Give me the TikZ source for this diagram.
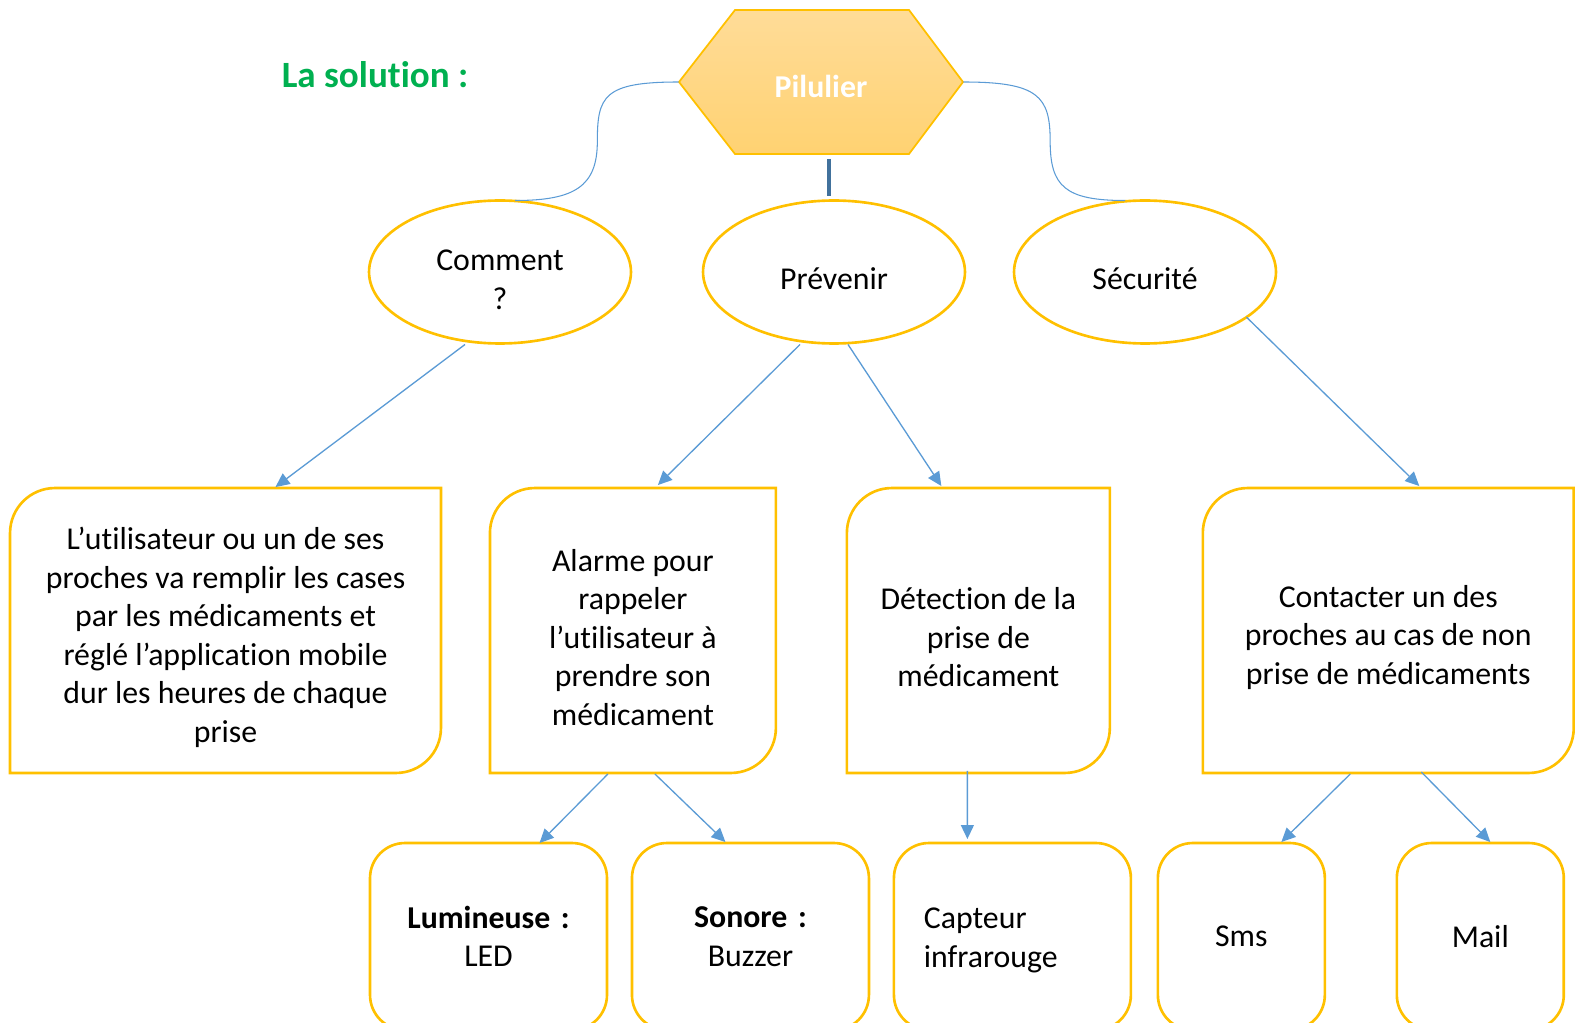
\documentclass[tikz,border=0pt]{standalone}
\usepackage{fontspec}
\setmainfont{Carlito}[Ligatures=NoCommon]
\usepackage{xcolor}
\usepackage{tikz}
\usetikzlibrary{positioning}
\usetikzlibrary{shapes,arrows}
\usetikzlibrary{arrows.meta}
\usetikzlibrary{calc}

\definecolor{orangebord}{HTML}{FFC000}
\definecolor{bleulien}{HTML}{5B9BD5}
\definecolor{bleutige}{HTML}{41719C}
\definecolor{vertitre}{HTML}{00B050}
\definecolor{hexhaut}{HTML}{FFDC98}
\definecolor{hexbas}{HTML}{FFD272}

\newcommand{\txt}{\fontsize{18.1}{21.9}\selectfont}
\newcommand{\hausse}{\rule{0pt}{0.72cm}}
\newcommand{\cadrediag}[1]{%
	\draw [cadre] (#1.north east) -- ([yshift=0.9cm]#1.south east)
		arc [start angle=0, end angle=-90, radius=0.9cm] -- (#1.south west)
		-- ([yshift=-0.9cm]#1.north west)
		arc [start angle=180, end angle=90, radius=0.9cm] -- cycle;}

\begin{document}
\begin{tikzpicture}[x=0.02cm, y=-0.02cm,
		titre/.style={font=\fontsize{21.1}{25}\selectfont\bfseries, text=vertitre},
		bulle/.style={ellipse, draw=orangebord, line width=1.5pt, fill=white, minimum width=5.24cm, minimum height=2.86cm, inner sep=0pt, outer sep=0pt, align=center, font=\txt},
		bloc/.style={rectangle, minimum height=5.7cm, inner sep=0pt, outer sep=0pt, align=center, font=\txt},
		cadre/.style={draw=orangebord, line width=1.5pt},
		petit/.style={rectangle, rounded corners=0.7cm, draw=orangebord, line width=1.5pt, minimum height=3.74cm, inner xsep=0.6cm, outer sep=0pt, text width=3.54cm, align=center, font=\txt},
		fleche/.style={draw=bleulien, line width=0.75pt, -{Triangle[length=0.28cm, width=0.26cm]}},
		crochet/.style={draw=bleulien, line width=0.6pt},
		tige/.style={draw=bleutige, line width=2.8pt}]
		\useasboundingbox (0,0) rectangle (1575,1023);
		
		\node[titre] (t) at (375,75) {La solution :};
		\coordinate (c0) at (821,82);
		\shade[top color=hexhaut, bottom color=hexbas, draw=orangebord, line width=1pt] ($(c0)+(-142,0)$) -- ($(c0)+(-86,-72)$) -- ($(c0)+(88,-72)$) -- ($(c0)+(142,0)$) -- ($(c0)+(88,72)$) -- ($(c0)+(-86,72)$) -- cycle;
		\node[font=\txt\bfseries, text=white, minimum width=5.68cm, minimum height=2.9cm, inner sep=0pt] (s0) at (c0) {\rule{0pt}{0.62cm}Pilulier};
		
		\node[bulle] (s1) at (500,272) {\hausse Comment\\?};
		\node[bulle] (s2) at (834,272) {\hausse Prévenir};
		\node[bulle] (s3) at (1145,272) {\hausse Sécurité};
		
		\draw[crochet] (s0.west) .. controls +(-75,0) and +(0,-45) .. ($(s0.west)!0.5!(s1.north)+(8,0)$) .. controls +(0,45) and +(60,0) .. ($(s1.north)+(15,0)$);
		\draw[crochet] (s0.east) .. controls +(75,0) and +(0,-45) .. ($(s0.east)!0.5!(s3.north)+(-4,0)$) .. controls +(0,45) and +(-60,0) .. ($(s3.north)+(-20,0)$);
		\draw[tige] ($(s0.south)+(8,4)$) -- ($(s2.north)+(-5,-5)$);
		
		\node[bloc, minimum width=8.62cm] (s1a) at (225.5,630.5) {\hausse L’utilisateur ou un de ses\\proches va remplir les cases\\par les médicaments et\\réglé l’application mobile\\dur les heures de chaque\\prise};
		\node[bloc, minimum width=5.72cm, right=0.98cm of s1a] (s2a) {\hausse Alarme pour\\rappeler\\l’utilisateur à\\prendre son\\médicament};
		\node[bloc, minimum width=5.26cm, right=1.42cm of s2a] (s2b) {\hausse Détection de la\\prise de\\médicament};
		\node[bloc, minimum width=7.42cm, right=1.86cm of s2b] (s3a) {\hausse Contacter un des\\proches au cas de non\\prise de médicaments};
		\cadrediag{s1a}
		\cadrediag{s2a}
		\cadrediag{s2b}
		\cadrediag{s3a}
		
		\node[petit] (s2a1) at (488.5,936.5) {\textbf{Lumineuse :}\\LED};
		\node[petit, right=0.5cm of s2a1] (s2a2) {\textbf{Sonore :}\\Buzzer};
		\node[petit, right=0.5cm of s2a2, align=left] (s2b1) {\rule{0pt}{0.57cm}Capteur\\infrarouge};
		\node[petit, text width=2.14cm, right=0.54cm of s2b1] (s3a1) {Sms};
		\node[petit, text width=2.14cm, right=1.44cm of s3a1] (s3a2) {Mail};
		
		\draw[fleche] ($(s1.south)+(-35,1)$) -- ($(s1a.north)+(50,-1)$);
		\draw[fleche] ($(s2.south)+(-34,1)$) -- ($(s2a.north)+(25,-3)$);
		\draw[fleche] ($(s2.south)+(14,1)$) -- ($(s2b.north)+(-37,-2)$);
		\draw[fleche] (s3.-24) -- ($(s3a.north)+(31,-2)$);
		\draw[fleche] ($(s2a.south)+(-25,1)$) -- ($(s2a1.north)+(51,0)$);
		\draw[fleche] ($(s2a.south)+(22,1)$) -- ($(s2a2.north)+(-25,-1)$);
		\draw[fleche] ($(s2b.south)+(-11,-2)$) -- ($(s2b1.north)+(-45,-4)$);
		\draw[fleche] ($(s3a.south)+(-38,1)$) -- ($(s3a1.north)+(40,-1)$);
		\draw[fleche] ($(s3a.south)+(33,-1)$) -- ($(s3a2.north)+(10,-1)$);
	\end{tikzpicture}
\end{document}
